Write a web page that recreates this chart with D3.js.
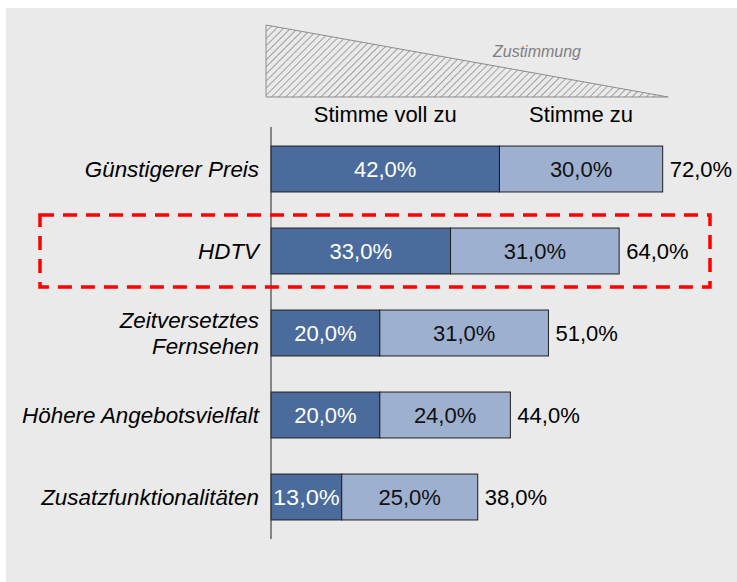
<!DOCTYPE html>
<html>
<head>
<meta charset="utf-8">
<script src="https://cdn.jsdelivr.net/npm/d3@7"></script>
<style>
  body { margin: 0; background: #fff; }
  svg { display: block; font-family: "Liberation Sans", Arial, sans-serif; }
</style>
</head>
<body>
<svg id="chart" width="737" height="582"></svg>
<script>
// data
const categories = ["Günstigerer Preis", "HDTV", "Zeitversetztes\nFernsehen", "Höhere Angebotsvielfalt", "Zusatzfunktionalitäten"];
const vollZu = [42, 33, 20, 20, 13];
const zu = [30, 31, 31, 24, 25];
const seriesNames = ["Stimme voll zu", "Stimme zu"];
const highlighted = "HDTV";

const fmt = v => d3.format(".1f")(v).replace(".", ",") + "%";

const svg = d3.select("#chart");

// background panel
svg.append("rect")
    .attr("x", 6).attr("y", 8)
    .attr("width", 731).attr("height", 574)
    .attr("fill", "#eaeaea");

const x = d3.scaleLinear().domain([0, 100]).range([271, 815]);
const y = d3.scaleBand().domain(categories).range([128, 538])
    .paddingInner(0.44).paddingOuter(0.22);

// hatch pattern for the "Zustimmung" wedge
const defs = svg.append("defs");
const pat = defs.append("pattern")
    .attr("id", "hatch")
    .attr("patternUnits", "userSpaceOnUse")
    .attr("width", 5).attr("height", 5)
    .attr("patternTransform", "rotate(45)");
pat.append("line")
    .attr("x1", 0).attr("y1", 0).attr("x2", 0).attr("y2", 5)
    .attr("stroke", "#9a9a9a").attr("stroke-width", 1.8);

const tri = [[x(0) - 5, 25], [x(0) - 5, 97], [x(73), 97]];
svg.append("path")
    .attr("d", d3.line()(tri) + "Z")
    .attr("fill", "url(#hatch)")
    .attr("stroke", "#8c8c8c")
    .attr("stroke-width", 1);

svg.append("text")
    .attr("x", 537).attr("y", 57)
    .attr("text-anchor", "middle")
    .attr("font-size", 16)
    .attr("font-style", "italic")
    .attr("fill", "#7f7f7f")
    .text("Zustimmung");

// column headers, centred over the first row's segments
svg.append("g").selectAll("text")
  .data(seriesNames)
  .join("text")
    .attr("x", (d, i) => i === 0 ? (x(0) + x(vollZu[0])) / 2 : (x(vollZu[0]) + x(vollZu[0] + zu[0])) / 2)
    .attr("y", 122)
    .attr("text-anchor", "middle")
    .attr("font-size", 22)
    .attr("fill", "#000")
    .text(d => d);

// bars
const rows = categories.map((c, i) => ({ c, a: vollZu[i], b: zu[i] }));
const g = svg.append("g");

g.selectAll("rect.a")
  .data(rows)
  .join("rect")
    .attr("class", "a")
    .attr("x", x(0))
    .attr("y", d => y(d.c))
    .attr("width", d => x(d.a) - x(0))
    .attr("height", y.bandwidth())
    .attr("fill", "#4a6b9b")
    .attr("stroke", "#1e1e1e")
    .attr("stroke-width", 1);

g.selectAll("rect.b")
  .data(rows)
  .join("rect")
    .attr("class", "b")
    .attr("x", d => x(d.a))
    .attr("y", d => y(d.c))
    .attr("width", d => x(d.a + d.b) - x(d.a))
    .attr("height", y.bandwidth())
    .attr("fill", "#9db0d0")
    .attr("stroke", "#1e1e1e")
    .attr("stroke-width", 1);

const mid = d => y(d.c) + y.bandwidth() / 2 + 8;

g.selectAll("text.a")
  .data(rows)
  .join("text")
    .attr("class", "a")
    .attr("x", d => (x(0) + x(d.a)) / 2)
    .attr("y", mid)
    .attr("text-anchor", "middle")
    .attr("font-size", 22)
    .attr("fill", "#fff")
    .attr("textLength", d => d.a < 15 ? x(d.a) - x(0) - 4 : null)
    .attr("lengthAdjust", "spacingAndGlyphs")
    .text(d => fmt(d.a));

g.selectAll("text.b")
  .data(rows)
  .join("text")
    .attr("class", "b")
    .attr("x", d => (x(d.a) + x(d.a + d.b)) / 2)
    .attr("y", mid)
    .attr("text-anchor", "middle")
    .attr("font-size", 22)
    .attr("fill", "#111")
    .text(d => fmt(d.b));

g.selectAll("text.t")
  .data(rows)
  .join("text")
    .attr("class", "t")
    .attr("x", d => x(d.a + d.b) + 7)
    .attr("y", mid)
    .attr("font-size", 22)
    .attr("fill", "#000")
    .text(d => fmt(d.a + d.b));

// category labels
const lab = g.selectAll("text.cat")
  .data(rows)
  .join("text")
    .attr("class", "cat")
    .attr("text-anchor", "end")
    .attr("font-size", 22.4)
    .attr("font-style", "italic")
    .attr("fill", "#000");
lab.each(function(d) {
  const lines = d.c.split("\n");
  const t = d3.select(this);
  lines.forEach((l, i) => {
    t.append("tspan")
      .attr("x", 259)
      .attr("y", mid(d) + (i - (lines.length - 1) / 2) * 26)
      .text(l);
  });
});

// axis line
svg.append("line")
    .attr("x1", x(0)).attr("x2", x(0))
    .attr("y1", 127).attr("y2", 539)
    .attr("stroke", "#404040")
    .attr("stroke-width", 1.2);

// highlight box
svg.append("rect")
    .attr("x", 40)
    .attr("y", y(highlighted) - 13)
    .attr("width", 670)
    .attr("height", y.bandwidth() + 26)
    .attr("fill", "none")
    .attr("stroke", "#ff0000")
    .attr("stroke-width", 3.5)
    .attr("stroke-dasharray", "14,9");
</script>
</body>
</html>
